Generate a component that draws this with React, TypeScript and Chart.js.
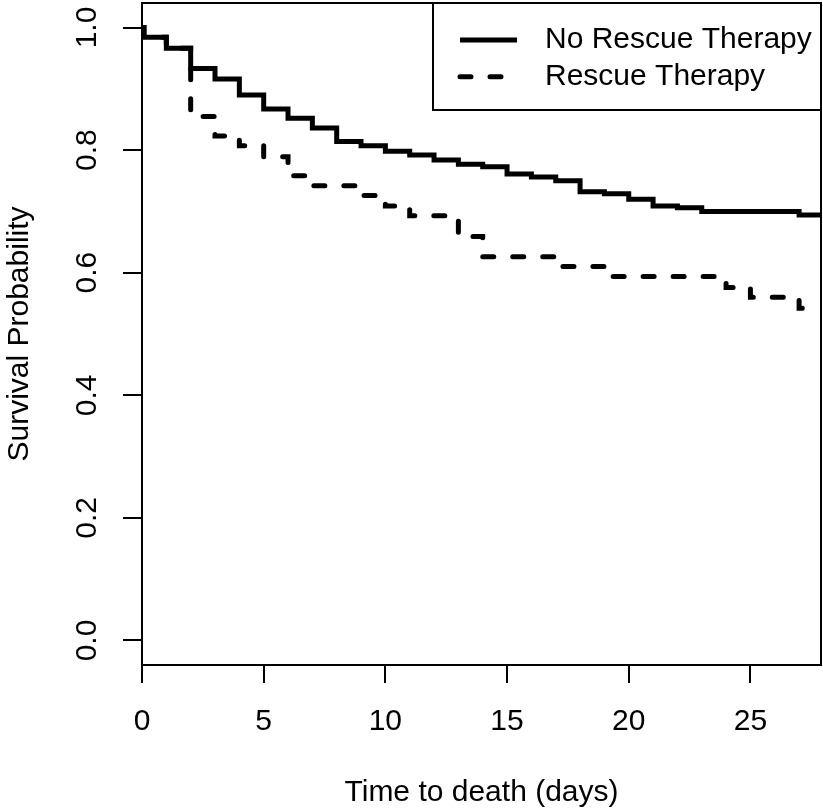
import React, { useEffect, useRef } from 'react';
import { Chart, registerables } from 'chart.js';

Chart.register(...registerables);

const seriesLabels = ['No Rescue Therapy', 'Rescue Therapy'];
const noRescueTimes = [0, 0.08, 1, 2, 3, 4, 5, 6, 7, 8, 9, 10, 11, 12, 13, 14, 15, 16, 17, 18, 19, 20, 21, 22, 23, 27, 27.9];
const noRescueSurv = [1, 0.984, 0.966, 0.933, 0.916, 0.89, 0.867, 0.852, 0.836, 0.814, 0.807, 0.798, 0.792, 0.784, 0.777, 0.773, 0.761, 0.756, 0.75, 0.732, 0.729, 0.72, 0.709, 0.706, 0.7, 0.694, 0.694];
const rescueTimes = [0, 0.08, 1, 2, 3, 4, 5, 6, 7, 9, 10, 11, 13, 14, 17, 19, 24, 25, 27, 27.5];
const rescueSurv = [1, 0.984, 0.966, 0.855, 0.823, 0.807, 0.789, 0.758, 0.742, 0.726, 0.709, 0.693, 0.659, 0.626, 0.61, 0.594, 0.576, 0.56, 0.542, 0.542];
const xTicks = [0, 5, 10, 15, 20, 25];
const yTicks = [0, 0.2, 0.4, 0.6, 0.8, 1.0];
const xTitle = 'Time to death (days)';
const yTitle = 'Survival Probability';

const FONT = '"Liberation Sans", Arial, Helvetica, sans-serif';
const FS = 30;

const framePlugin = {
  id: 'frame',
  afterDatasetsDraw(chart: any) {
    const { ctx, chartArea: a } = chart;
    ctx.save();
    ctx.strokeStyle = '#000';
    ctx.lineWidth = 2;
    ctx.setLineDash([]);
    ctx.strokeRect(a.left, a.top, a.right - a.left, a.bottom - a.top);
    ctx.restore();
  },
};

const boxLegendPlugin = {
  id: 'boxLegend',
  afterDatasetsDraw(chart: any) {
    const { ctx, chartArea: a } = chart;
    const boxW = 388;
    const boxH = 107;
    const left = a.right - boxW;
    const top = a.top;
    ctx.save();
    ctx.fillStyle = '#fff';
    ctx.fillRect(left, top, boxW, boxH);
    ctx.strokeStyle = '#000';
    ctx.lineWidth = 2;
    ctx.setLineDash([]);
    ctx.strokeRect(left, top, boxW, boxH);
    chart.data.datasets.forEach((ds: any, i: number) => {
      const y = top + 37 + i * 36.7;
      ctx.beginPath();
      ctx.setLineDash(ds.borderDash || []);
      ctx.lineCap = ds.borderCapStyle || 'butt';
      ctx.lineWidth = ds.borderWidth;
      ctx.strokeStyle = ds.borderColor;
      ctx.moveTo(left + 27, y);
      ctx.lineTo(left + 84, y);
      ctx.stroke();
      ctx.setLineDash([]);
      ctx.font = `${FS}px ${FONT}`;
      ctx.fillStyle = '#000';
      ctx.textBaseline = 'middle';
      ctx.textAlign = 'left';
      ctx.fillText(ds.label, left + 112, y);
    });
    ctx.restore();
  },
};

export default function App() {
  const ref = useRef<HTMLCanvasElement | null>(null);

  useEffect(() => {
    if (!ref.current) return;
    const chart = new Chart(ref.current, {
      type: 'line',
      data: {
        datasets: [
          {
            label: seriesLabels[0],
            data: noRescueTimes.map((t, i) => ({ x: t, y: noRescueSurv[i] })),
            borderColor: '#000',
            borderWidth: 5,
            stepped: 'before',
            pointRadius: 0,
            fill: false,
            borderCapStyle: 'butt',
            borderJoinStyle: 'miter',
          },
          {
            label: seriesLabels[1],
            data: rescueTimes.map((t, i) => ({ x: t, y: rescueSurv[i] })),
            borderColor: '#000',
            borderWidth: 5,
            stepped: 'before',
            pointRadius: 0,
            fill: false,
            borderDash: [11, 19],
            borderCapStyle: 'round',
            borderJoinStyle: 'miter',
          },
        ],
      } as any,
      options: {
        animation: false,
        responsive: false,
        events: [],
        layout: { padding: { left: 0, top: 3, right: 2, bottom: 0 } },
        plugins: {
          legend: { display: false },
          tooltip: { enabled: false },
        },
        scales: {
          x: {
            type: 'linear',
            min: 0,
            max: 27.9,
            afterBuildTicks: (s: any) => {
              s.ticks = xTicks.map((v) => ({ value: v }));
            },
            afterFit: (s: any) => {
              s.height = 146;
              s.paddingLeft = 0;
              s.paddingRight = 0;
              s.paddingTop = 0;
              s.paddingBottom = 0;
            },
            border: { display: false },
            grid: { drawOnChartArea: false, drawTicks: true, tickLength: 18, color: '#000', lineWidth: 2 },
            ticks: {
              color: '#000',
              font: { family: FONT, size: FS },
              padding: 20.5,
              maxRotation: 0,
              autoSkip: false,
              callback: (v: any) => String(v),
            },
            title: {
              display: true,
              text: xTitle,
              color: '#000',
              font: { family: FONT, size: FS },
              padding: { top: 0, bottom: 0 },
            },
          },
          y: {
            type: 'linear',
            min: -0.04,
            max: 1.04,
            afterBuildTicks: (s: any) => {
              s.ticks = yTicks.map((v) => ({ value: v }));
            },
            afterFit: (s: any) => {
              s.width = 142;
              s.paddingLeft = 0;
              s.paddingRight = 0;
              s.paddingTop = 0;
              s.paddingBottom = 0;
            },
            border: { display: false },
            grid: { drawOnChartArea: false, drawTicks: true, tickLength: 19, color: '#000', lineWidth: 2 },
            ticks: {
              color: '#000',
              font: { family: FONT, size: FS },
              padding: 14.5,
              minRotation: 90,
              maxRotation: 90,
              crossAlign: 'center',
              autoSkip: false,
              callback: (v: any) => Number(v).toFixed(1),
            },
            title: {
              display: true,
              text: yTitle,
              color: '#000',
              font: { family: FONT, size: FS },
              padding: { top: 2, bottom: 0 },
            },
          },
        },
      } as any,
      plugins: [framePlugin, boxLegendPlugin],
    });
    return () => chart.destroy();
  }, []);

  return (
    <div style={{ position: 'absolute', left: 0, top: 0, width: 823, height: 811, background: '#fff' }}>
      <canvas ref={ref} width={823} height={811} style={{ display: 'block' }} />
    </div>
  );
}
